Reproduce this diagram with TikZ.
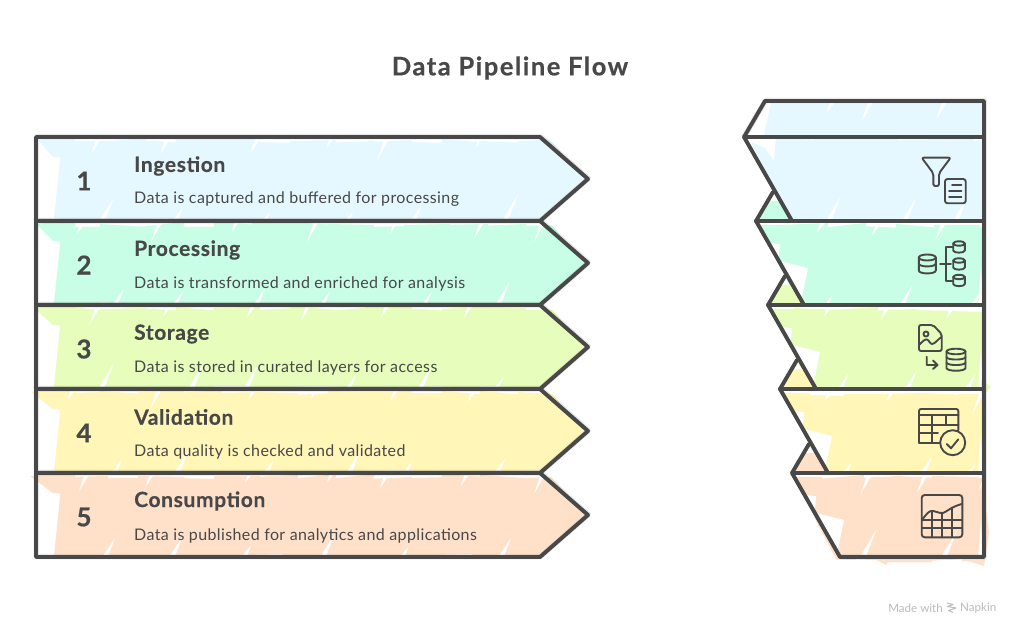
\documentclass[tikz,border=0pt]{standalone}
\usepackage{fontspec}
\setmainfont{Lato}
\newfontfamily\titlef[LetterSpace=6,BoldFeatures={FakeBold=0.5}]{Lato}
\newfontfamily\headf[LetterSpace=3,BoldFeatures={FakeBold=0.4}]{Lato}
\newfontfamily\numf[BoldFeatures={FakeBold=0.5}]{Lato}
\newfontfamily\bodyf[LetterSpace=2.4]{Lato}
\definecolor{inkc}{HTML}{484848}
\definecolor{fa}{HTML}{E6F8FF}
\definecolor{fb}{HTML}{C8FDE6}
\definecolor{fc}{HTML}{E6FDBC}
\definecolor{fd}{HTML}{FFF6B8}
\definecolor{fe}{HTML}{FFE1CA}
\definecolor{napk}{HTML}{BBBBBB}
\tikzset{
  outl/.style={draw=inkc,line width=3.9pt,line join=round,line cap=round},
  halo/.style={draw=inkc,line width=5.4pt,opacity=.12,line join=round,line cap=round},
  ico/.style={draw=inkc,line width=1.9pt,line join=round,line cap=round},
  numt/.style={text=inkc,font=\numf\fontsize{26}{26}\selectfont\bfseries,anchor=center,inner sep=0pt},
  headt/.style={text=inkc,font=\headf\fontsize{21}{22}\selectfont\bfseries,anchor=west,inner sep=0pt},
  bodyt/.style={text=inkc,font=\bodyf\fontsize{16}{17}\selectfont,anchor=west,inner sep=0pt},
}
% #1 colour, #2 first x, #3 number of strips, #4 top y, #5 bottom y
\newcommand\stripfill[5]{%
  \foreach \k in {0,...,#3}{%
    \pgfmathsetmacro\xa{#2+38*\k}
    \pgfmathrandominteger{\ja}{-2}{3}
    \pgfmathrandominteger{\jb}{-2}{3}
    \pgfmathrandominteger{\jc}{-2}{2}
    \pgfmathrandominteger{\jd}{-2}{2}
    \fill[#1] (\xa,#4+\ja) -- (\xa+46,#4+\jb) -- (\xa+38,#5+\jc) -- (\xa-8,#5+\jd) -- cycle;
  }%
}
% white wedges cut in from the edges: #1 first x, #2 count, #3 step, #4 top y, #5 bottom y
\newcommand\wedges[5]{%
  \foreach \k in {0,...,#2}{%
    \pgfmathrandominteger{\ra}{0}{30}
    \pgfmathrandominteger{\rb}{0}{30}
    \pgfmathrandominteger{\la}{8}{22}
    \pgfmathrandominteger{\lb}{10}{28}
    \pgfmathsetmacro\xu{#1+#3*\k+\ra}
    \pgfmathsetmacro\xl{#1+#3*\k+\rb+20}
    \fill[white] (\xu,#4-1) -- (\xu+5,#4-1) -- (\xu-0.35*\la,#4+\la) -- cycle;
    \fill[white] (\xl,#5+1) -- (\xl-6,#5+1) -- (\xl+0.4*\lb,#5-\lb) -- cycle;
  }%
}
% cylinder: #1 centre x, #2 top y, #3 bottom y, #4 rx, #5 ry
\newcommand\cyl[5]{%
  \draw[ico] (#1,#2) ellipse[x radius=#4,y radius=#5];
  \draw[ico] (#1-#4,#2) -- (#1-#4,#3) .. controls (#1-#4,#3+1.3*#5) and (#1+#4,#3+1.3*#5) .. (#1+#4,#3) -- (#1+#4,#2);
}
% band across a cylinder: #1 centre x, #2 y, #3 rx, #4 ry
\newcommand\cylband[4]{%
  \draw[ico] (#1-#3,#2) .. controls (#1-#3,#2+1.3*#4) and (#1+#3,#2+1.3*#4) .. (#1+#3,#2);
}
\begin{document}
\begin{tikzpicture}[x=1pt,y=-1pt]
\useasboundingbox (0,0) rectangle (1020,636);
\fill[white] (0,0) rectangle (1020,636);
\pgfmathsetseed{11}

% ---------- left column fills
\foreach \t/\c/\ox in {137/fa/38,221/fb/36,305/fc/34,389/fd/31,473/fe/30}{
  \pgfmathsetmacro\b{\t+84}
  \pgfmathsetmacro\m{\t+42}
  \begin{scope}
    \clip (28,\t-6) -- (543,\t-6) -- (584,\m) -- (540,\b+2) -- (28,\b+2) -- cycle;
    \fill[\c] (\ox,\t+3) -- (75,\t-1) -- (75,\t+22) -- (53,\t+20) -- cycle;
    \stripfill{\c}{62}{14}{\t+3}{\b-1}
    \wedges{70}{6}{78}{\t+1}{\b+1}
  \end{scope}
}
% ---------- right column fills
\begin{scope}
  \clip (748,137) -- (765,103) -- (981,103) -- (981,221) -- (792,221) -- cycle;
  \stripfill{fa}{772}{6}{100}{137}
  \stripfill{fa}{776}{6}{138}{221}
  \fill[fa] (750,142) -- (765,148) -- (780,170) -- (776,195) -- cycle;
  \wedges{800}{2}{62}{103}{223}
\end{scope}
\foreach \t/\c/\tx/\ex in {221/fb/756/0,305/fc/768/0,389/fd/780/0,473/fe/792/3}{
  \pgfmathsetmacro\b{\t+84}
  \begin{scope}
    \clip (\tx+17,\t-29) -- (\tx-1,\t) -- (\tx+46,\b+3+\ex) -- (982,\b+3+\ex) -- (982,\t-2) -- (\tx+38,\t-2) -- cycle;
    \stripfill{\c}{\tx+26}{5}{\t+4}{\b+\ex}
    \fill[\c] (\tx+10,\t-20) -- (\tx+24,\t-20) -- (\tx+38,\t) -- (\tx+3,\t) -- cycle;
    \fill[\c] (\tx+4,\t+4) -- (\tx+30,\t+4) -- (\tx+40,\t+25) -- (\tx+14,\t+22) -- cycle;
    \fill[white] (\tx+20,\t+39) -- (\tx+52,\t+47) -- (\tx+46,\t+76) -- cycle;
    \wedges{\tx+46}{2}{62}{\t+3}{\b+1}
    \fill[white] (981,\t+45) -- (978,\b+2) -- (983,\b+2) -- cycle;
  \end{scope}
}
% small spills of the wash past the right edge and the base
\fill[fc] (981,379) -- (991,387) -- (984,395) -- (981,393) -- cycle;
\fill[fe] (982,480) -- (989,532) -- (984,566) -- (968,561) -- (982,556) -- cycle;
\fill[fe] (875,559) -- (890,559) -- (886,565) -- cycle;

% ---------- left column outlines
\foreach \t in {137,221,305,389,473}{
  \pgfmathsetmacro\b{\t+84}
  \pgfmathsetmacro\m{\t+42}
  \draw[halo,shift={(0.4,-0.4)}] (36,\t) -- (540,\t) -- (588,\m) -- (540,\b) -- (36,\b) -- cycle;
  \draw[outl] (36,\t) -- (540,\t) -- (588,\m) -- (540,\b) -- (36,\b) -- cycle;
}
% ---------- right column outlines
\draw[halo,shift={(0.4,-0.4)}] (744,137) -- (765,101) -- (984,101) -- (984,557) -- (840,557);
\draw[outl] (984,137) -- (744,137) -- (765,101) -- (984,101) -- (984,557) -- (840,557) -- (792,473) -- (984,473);
\draw[outl] (744,137) -- (792,221);
\foreach \tx/\t in {756/221,768/305,780/389}{
  \draw[outl] (\tx+17,\t-29) -- (\tx,\t) -- (\tx+48,\t+84);
  \draw[outl] (\tx,\t) -- (984,\t);
}
\draw[outl] (809,444) -- (792,473);

% ---------- text
\node[text=inkc,font=\titlef\fontsize{25.5}{27}\selectfont\bfseries,inner sep=0pt] (title) at (510,68) {Data Pipeline Flow};
\node[numt] (n1) at (84,181) {1};
\node[numt] (n2) at (84,265) {2};
\node[numt] (n3) at (84,349) {3};
\node[numt] (n4) at (84,433) {4};
\node[numt] (n5) at (84,517) {5};
\node[headt] (h1) at (134,166) {Ingestion};
\node[headt] (h2) at (134,250) {Processing};
\node[headt] (h3) at (134,334) {Storage};
\node[headt] (h4) at (134,417) {Validation};
\node[headt] (h5) at (134,501) {Consumption};
\node[bodyt] (d1) at (134,199.5) {Data is captured and buffered for processing};
\node[bodyt] (d2) at (134,283.5) {Data is transformed and enriched for analysis};
\node[bodyt] (d3) at (134,367.5) {Data is stored in curated layers for access};
\node[bodyt] (d4) at (134,451.5) {Data quality is checked and validated};
\node[bodyt] (d5) at (134,535.5) {Data is published for analytics and applications};

% ---------- icon 1: funnel and document
\draw[ico,rounded corners=2pt] (921.7,157.7) -- (950.7,157.7) -- (939,173.3) -- (939,186) -- (933.3,186) -- (933.3,173.3) -- cycle;
\draw[ico,rounded corners=2.5pt] (945,179) rectangle (965.7,203.3);
\draw[ico] (952,185) -- (961.5,185) (949,191) -- (961.5,191) (949,197) -- (961.5,197);

% ---------- icon 2: databases tree
\cyl{927.3}{257.5}{270.5}{8.5}{3}
\cylband{927.3}{263.5}{8.5}{3}
\draw[ico] (940,264) -- (951,264) (952.7,247.3) -- (945.7,247.3) -- (945.7,280.7) -- (952.7,280.7);
\foreach \cy in {247,264,280.5}{
  \cyl{959}{\cy-3.5}{\cy+3.5}{5.8}{2.2}
}

% ---------- icon 3: image to database
\draw[ico,rounded corners=2pt] (919,325) -- (933,325) -- (941.7,334) -- (941.7,351) -- (919,351) -- cycle;
\draw[ico] (926,334) circle[radius=2.5];
\draw[ico] (919,345) .. controls (923,341) and (925,339) .. (927,339.5) .. controls (929,340) and (930,344) .. (932,344) .. controls (935,344) and (938,339) .. (941.5,337);
\draw[ico] (926.7,356.7) -- (926.7,365) -- (937.3,365) (933,360.5) -- (937.5,365) -- (933,369);
\cyl{956}{351.5}{368}{9.5}{2.8}
\cylband{956}{357}{9.5}{2.6}
\cylband{956}{362.5}{9.5}{2.6}

% ---------- icon 4: table with check
\draw[ico,rounded corners=2pt] (919,442.7) -- (919,409) -- (958.3,409) -- (958.3,430);
\draw[ico] (919,442.7) -- (940,442.7) (919,415) -- (958.3,415) (919,425) -- (958.3,425) (919,433.3) -- (938,433.3) (932.3,415) -- (932.3,442.7) (946,415) -- (946,425);
\draw[ico,fill=fd] (952.7,442.7) circle[radius=12.5];
\draw[ico] (946.7,444) -- (951,448.3) -- (958.3,439.3);

% ---------- icon 5: chart
\draw[ico,rounded corners=3pt] (921.7,495) rectangle (962.3,537.3);
\draw[ico] (922.3,519.3) .. controls (926,515) and (928,511.7) .. (931,511) .. controls (934,510.3) and (939,513.6) .. (943,513) .. controls (947,511.5) and (951,507) .. (961.7,504);
\draw[ico] (932.3,511.5) -- (932.3,537.3) (942.3,513.3) -- (942.3,537.3) (952.3,507.5) -- (952.3,537.3) (922,520) -- (962,520) (922,528.3) -- (962,528.3);

% ---------- credit line
\node[text=napk,font=\fontsize{11.6}{12}\selectfont,anchor=east,inner sep=0pt] (made) at (943,608) {Made with};
\node[text=napk,font=\fontsize{11.6}{12}\selectfont,anchor=west,inner sep=0pt] (napkin) at (960,608) {Napkin};
\draw[napk,line width=1pt,line join=round] (947,603) -- (953,604.5) -- (947.5,606.5) -- (956,608) -- (948.5,610.5) -- (953,612.5);
\end{tikzpicture}
\end{document}
